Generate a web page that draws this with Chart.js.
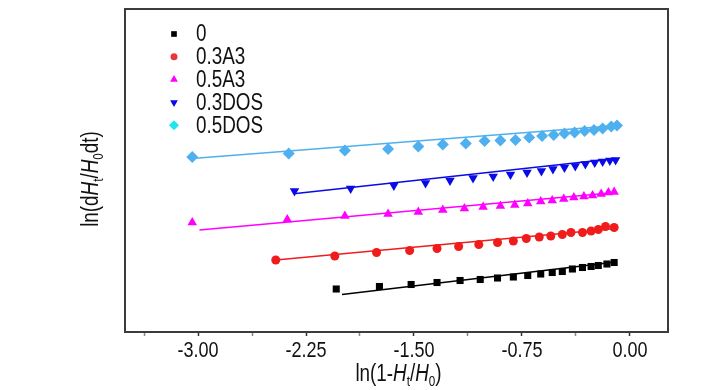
<!DOCTYPE html>
<html>
<head>
<meta charset="utf-8">
<script src="https://cdn.jsdelivr.net/npm/chart.js@4.4.1/dist/chart.umd.min.js"></script>
<style>
html, body { margin: 0; padding: 0; background: #fff; }
#wrap { width: 728px; height: 390px; }
</style>
</head>
<body>
<div id="wrap"><canvas id="grafica" width="728" height="390"></canvas></div>
<script>
const FUENTE = '"Liberation Sans", Arial, sans-serif';
// el original usa una letra estrecha: se comprime en horizontal
const ESTRECHO = 0.82;

// Nombres de las series (leyenda)
const series = ["0", "0.3A3", "0.5A3", "0.3DOS", "0.5DOS"];

// Puntos medidos: x = ln(1-Ht/H0), y = ln(dHt/H0dt) (unidades arbitrarias, el eje no tiene etiquetas)
const x0 = [-2.04, -1.74, -1.52, -1.34, -1.18, -1.04, -0.92, -0.81, -0.71, -0.62, -0.54, -0.47, -0.40, -0.33, -0.27, -0.22, -0.16, -0.11];
const y0 = [0.86, 0.91, 0.95, 0.99, 1.03, 1.05, 1.08, 1.10, 1.13, 1.16, 1.19, 1.21, 1.26, 1.29, 1.31, 1.33, 1.36, 1.39];

const x1 = [-2.46, -2.05, -1.76, -1.53, -1.34, -1.19, -1.05, -0.92, -0.81, -0.72, -0.63, -0.55, -0.47, -0.41, -0.33, -0.27, -0.22, -0.17, -0.11];
const y1 = [1.44, 1.52, 1.59, 1.63, 1.67, 1.71, 1.75, 1.79, 1.82, 1.87, 1.90, 1.92, 1.95, 1.99, 1.99, 2.02, 2.05, 2.11, 2.09];

const x2 = [-3.04, -2.38, -1.98, -1.68, -1.47, -1.30, -1.15, -1.02, -0.90, -0.80, -0.71, -0.62, -0.54, -0.46, -0.39, -0.32, -0.26, -0.20, -0.15, -0.11];
const y2 = [2.19, 2.25, 2.32, 2.36, 2.40, 2.44, 2.47, 2.50, 2.52, 2.54, 2.57, 2.61, 2.63, 2.66, 2.69, 2.71, 2.73, 2.76, 2.79, 2.80];

const x3 = [-2.33, -1.94, -1.64, -1.42, -1.25, -1.09, -0.95, -0.83, -0.715, -0.615, -0.535, -0.455, -0.38, -0.31, -0.245, -0.19, -0.14, -0.10];
const y3 = [2.82, 2.87, 2.93, 2.98, 3.03, 3.08, 3.11, 3.15, 3.19, 3.22, 3.26, 3.29, 3.32, 3.36, 3.39, 3.41, 3.43, 3.44];

const x4 = [-3.04, -2.37, -1.98, -1.68, -1.47, -1.30, -1.14, -1.01, -0.90, -0.795, -0.70, -0.61, -0.53, -0.455, -0.385, -0.315, -0.25, -0.19, -0.13, -0.09];
const y4 = [3.50, 3.57, 3.63, 3.66, 3.71, 3.75, 3.77, 3.82, 3.83, 3.84, 3.89, 3.92, 3.94, 3.97, 3.99, 4.02, 4.04, 4.07, 4.11, 4.13];

// Rectas de ajuste (extremos)
const fitX0 = [-2.00, -0.10], fitY0 = [0.75, 1.40];
const fitX1 = [-2.46, -0.10], fitY1 = [1.44, 2.07];
const fitX2 = [-2.99, -0.10], fitY2 = [2.04, 2.79];
const fitX3 = [-2.32, -0.10], fitY3 = [2.77, 3.47];
const fitX4 = [-3.04, -0.09], fitY4 = [3.47, 4.13];

// Marcas del eje x (mayores cada 0.75, menores a la mitad)
const xTicks = [-3.375, -3.00, -2.625, -2.25, -1.875, -1.50, -1.125, -0.75, -0.375, 0.00];

const puntosX = [x0, x1, x2, x3, x4];
const puntosY = [y0, y1, y2, y3, y4];
const ajusteX = [fitX0, fitX1, fitX2, fitX3, fitX4];
const ajusteY = [fitY0, fitY1, fitY2, fitY3, fitY4];

const COLORES = ["#000000", "#f01c1c", "#ff00ff", "#0a0ae6", "#4fb0f0"];
const COLORES_LEYENDA = ["#000000", "#e8383a", "#ff00ff", "#0a0ae6", "#1ee6f0"];
const ESTILOS = [
    { pointStyle: "rect", rotation: 0, radius: 5 },
    { pointStyle: "circle", rotation: 0, radius: 4.5 },
    { pointStyle: "triangle", rotation: 0, radius: 5.5 },
    { pointStyle: "triangle", rotation: 180, radius: 5.5 },
    { pointStyle: "rectRot", rotation: 0, radius: 6 },
];

const zip = (xs, ys) => xs.map((x, i) => ({ x, y: ys[i] }));

const datasets = [];
series.forEach((nombre, i) => {
    datasets.push({
        label: nombre,
        data: zip(puntosX[i], puntosY[i]),
        showLine: false,
        backgroundColor: COLORES[i],
        borderColor: COLORES[i],
        pointBackgroundColor: COLORES[i],
        pointBorderColor: COLORES[i],
        pointBorderWidth: 0,
        pointStyle: ESTILOS[i].pointStyle,
        pointRotation: ESTILOS[i].rotation,
        pointRadius: ESTILOS[i].radius,
    });
    datasets.push({
        label: nombre + " ajuste",
        data: zip(ajusteX[i], ajusteY[i]),
        showLine: true,
        borderColor: COLORES[i],
        borderWidth: 1.6,
        pointRadius: 0,
        fill: false,
    });
});

// Texto comprimido en horizontal
function textoEstrecho(ctx, texto, x, y, size, align) {
    ctx.save();
    ctx.font = size + "px " + FUENTE;
    ctx.textAlign = align;
    ctx.translate(x, y);
    ctx.scale(ESTRECHO, 1);
    ctx.fillText(texto, 0, 0);
    ctx.restore();
}

// Texto con cursiva y subíndices, centrado en (cx, cy)
function dibujarRico(ctx, partes, size, cx, cy) {
    let ancho = 0;
    partes.forEach(p => {
        p.s = p.sub ? size * 0.62 : size;
        ctx.font = (p.italic ? "italic " : "") + p.s + "px " + FUENTE;
        p.w = ctx.measureText(p.t).width;
        ancho += p.w;
    });
    ctx.save();
    ctx.translate(cx, cy);
    ctx.scale(ESTRECHO, 1);
    ctx.textBaseline = "alphabetic";
    ctx.textAlign = "left";
    let x = -ancho / 2;
    partes.forEach(p => {
        ctx.font = (p.italic ? "italic " : "") + p.s + "px " + FUENTE;
        ctx.fillText(p.t, x, p.sub ? size * 0.22 : 0);
        x += p.w;
    });
    ctx.restore();
}

const tituloX = [
    { t: "ln(1-" }, { t: "H", italic: true }, { t: "t", sub: true }, { t: "/" },
    { t: "H", italic: true }, { t: "0", sub: true }, { t: ")" },
];
const tituloY = [
    { t: "ln(d" }, { t: "H", italic: true }, { t: "t", sub: true }, { t: "/" },
    { t: "H", italic: true }, { t: "0", sub: true }, { t: "dt)" },
];

const esMayor = v => Math.abs(v / 0.75 - Math.round(v / 0.75)) < 1e-6;

const marco = {
    id: "marco",
    afterDraw(chart) {
        const { ctx, chartArea: a } = chart;
        ctx.save();
        ctx.strokeStyle = "#3c3c3c";
        ctx.lineWidth = 2;
        ctx.strokeRect(a.left, a.top, a.right - a.left, a.bottom - a.top);

        // etiquetas del eje x
        const escala = chart.scales.x;
        ctx.fillStyle = "#111";
        ctx.textBaseline = "alphabetic";
        escala.ticks.forEach(t => {
            if (!esMayor(t.value)) return;
            textoEstrecho(ctx, t.value.toFixed(2), escala.getPixelForValue(t.value), 357, 22, "center");
        });

        // títulos de ejes
        dibujarRico(ctx, tituloX, 23, (a.left + a.right) / 2 + 2, 381);
        ctx.translate(98, 179);
        ctx.rotate(-Math.PI / 2);
        dibujarRico(ctx, tituloY, 23, 0, 0);
        ctx.restore();

        // leyenda
        ctx.save();
        series.forEach((nombre, i) => {
            const y = 34 + i * 22.8;
            ctx.fillStyle = COLORES_LEYENDA[i];
            ctx.strokeStyle = COLORES_LEYENDA[i];
            Chart.helpers.drawPoint(ctx, {
                pointStyle: ESTILOS[i].pointStyle,
                rotation: ESTILOS[i].rotation,
                radius: ESTILOS[i].radius - 1,
                borderWidth: 0,
            }, 174, y);
            ctx.fillStyle = "#111";
            ctx.textBaseline = "middle";
            textoEstrecho(ctx, nombre, 196, y + 1, 23, "left");
        });
        ctx.restore();
    }
};

new Chart(document.getElementById("grafica"), {
    type: "scatter",
    data: { datasets },
    options: {
        responsive: false,
        animation: false,
        devicePixelRatio: 1,
        layout: { padding: { left: 125, right: 60, top: 9, bottom: 0 } },
        plugins: { legend: { display: false }, tooltip: { enabled: false } },
        scales: {
            x: {
                type: "linear",
                min: -3.507,
                max: 0.264,
                afterBuildTicks: scale => { scale.ticks = xTicks.map(v => ({ value: v })); },
                afterFit: scale => { scale.height = 58; },
                border: { display: false },
                grid: {
                    drawOnChartArea: false,
                    drawTicks: true,
                    tickLength: 4,
                    tickWidth: 1.5,
                    tickColor: ctx => esMayor(ctx.tick.value) ? "#333" : "#888",
                },
                ticks: { display: false },
            },
            y: {
                display: false,
                min: 0,
                max: 6.46,
            },
        },
    },
    plugins: [marco],
});
</script>
</body>
</html>
